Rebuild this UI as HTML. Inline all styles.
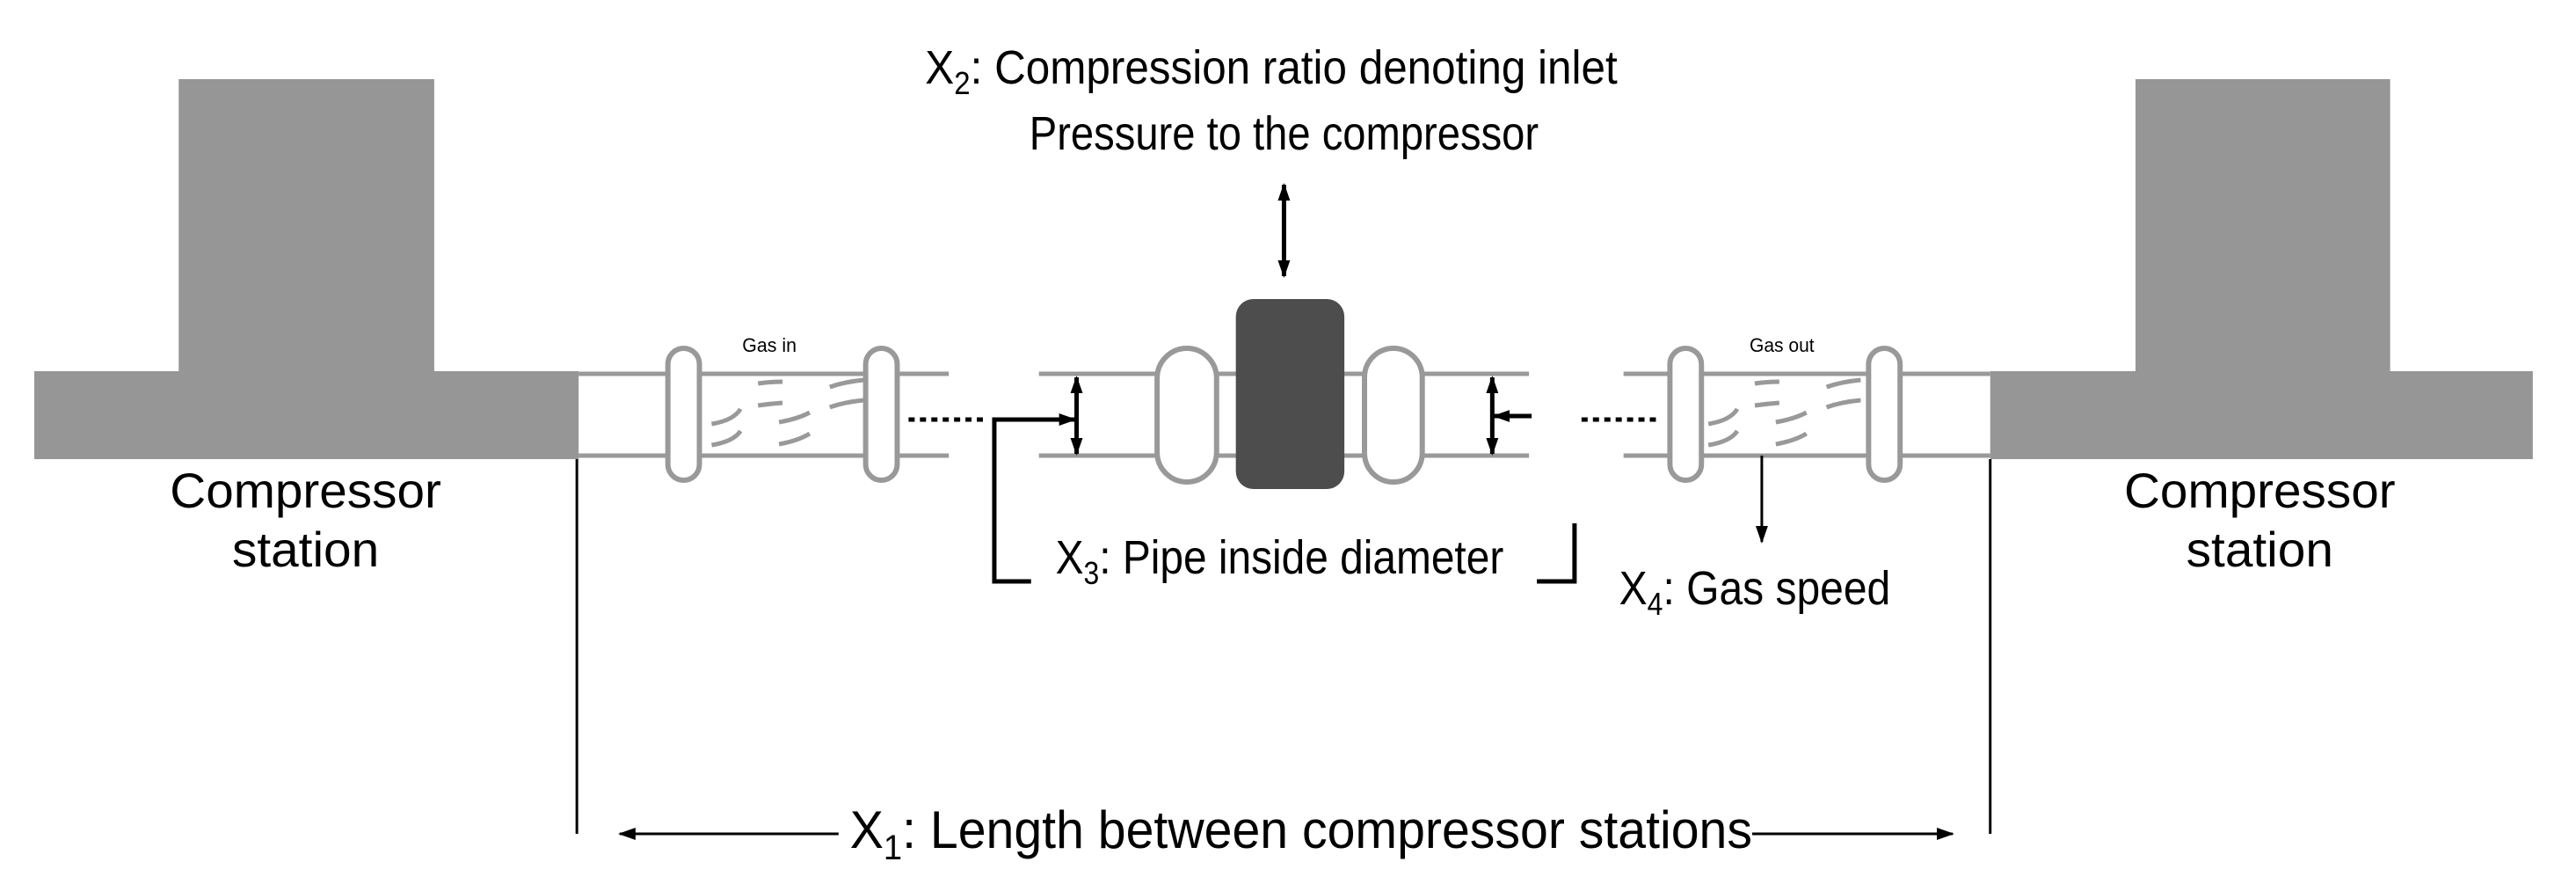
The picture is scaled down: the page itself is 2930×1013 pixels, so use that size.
<!DOCTYPE html>
<html><head><meta charset="utf-8"><style>html,body{margin:0;padding:0;background:#fff}svg{display:block}text{font-family:"Liberation Sans",Arial,sans-serif;fill:#000}</style></head>
<body>
<svg width="2930" height="1013" viewBox="0 0 2930 1013" xmlns="http://www.w3.org/2000/svg">
<defs>
<marker id="ahs" viewBox="0 0 10 10" markerWidth="20" markerHeight="20" refX="9" refY="5" orient="auto-start-reverse" markerUnits="userSpaceOnUse"><path d="M0,1.5 L10,5 L0,8.5 Z" fill="#000"/></marker>
</defs>
<rect width="2930" height="1013" fill="#fff"/>
<g transform="translate(39,0) scale(0.9954,1) translate(-39,0)">
<!-- stations -->
<rect x="39" y="422" width="622" height="100" fill="#969696"/>
<rect x="204" y="90" width="292" height="335" fill="#969696"/>
<rect x="2274" y="422" width="620" height="100" fill="#969696"/>
<rect x="2440" y="90" width="291" height="335" fill="#969696"/>
<g font-size="56" text-anchor="middle">
<text x="349" y="577" textLength="310" lengthAdjust="spacingAndGlyphs">Compressor</text>
<text x="349" y="644" textLength="168" lengthAdjust="spacingAndGlyphs">station</text>
<text x="2582" y="577" textLength="310" lengthAdjust="spacingAndGlyphs">Compressor</text>
<text x="2582" y="644" textLength="168" lengthAdjust="spacingAndGlyphs">station</text>
</g>
<!-- pipes -->
<g stroke="#999" stroke-width="5" fill="none">
<line x1="661" y1="425" x2="1084" y2="425"/><line x1="661" y1="518" x2="1084" y2="518"/>
<line x1="1187" y1="425" x2="1747" y2="425"/><line x1="1187" y1="518" x2="1747" y2="518"/>
<line x1="1855" y1="425" x2="2274" y2="425"/><line x1="1855" y1="518" x2="2274" y2="518"/>
</g>
<g stroke="#999" stroke-width="6" fill="#fff">
<rect x="763" y="396" width="36" height="150" rx="18"/>
<rect x="989" y="396" width="36" height="150" rx="18"/>
<rect x="1908" y="396" width="36" height="150" rx="18"/>
<rect x="2135" y="396" width="36" height="150" rx="18"/>
<rect x="1322" y="396" width="68" height="152" rx="34"/>
<rect x="1559" y="396" width="66" height="152" rx="33"/>
</g>
<rect x="1412" y="340" width="124" height="216" rx="20" fill="#4d4d4d"/>
<!-- gas dashes -->
<g stroke="#999" stroke-width="5" fill="none">
<path d="M813 482 Q838 478 846 465"/><path d="M813 506 Q838 502 846 490"/>
<path d="M866 436 Q880 434 894 434"/><path d="M866 461 Q880 459 894 458"/>
<path d="M890 480 Q912 476 925 469"/><path d="M890 505 Q912 501 925 493"/>
<path d="M948 440 Q965 434 987 432"/><path d="M948 463 Q965 457 987 455"/>
<path d="M1952 482 Q1977 478 1985 465"/><path d="M1952 506 Q1977 502 1985 490"/>
<path d="M2005 436 Q2019 434 2033 434"/><path d="M2005 461 Q2019 459 2033 458"/>
<path d="M2029 480 Q2051 476 2064 469"/><path d="M2029 505 Q2051 501 2064 493"/>
<path d="M2087 440 Q2104 434 2126 432"/><path d="M2087 463 Q2104 457 2126 455"/>
</g>
<text x="879" y="400" font-size="22" text-anchor="middle" textLength="62" lengthAdjust="spacingAndGlyphs">Gas in</text>
<text x="2036" y="400" font-size="22" text-anchor="middle" textLength="74" lengthAdjust="spacingAndGlyphs">Gas out</text>
<!-- dotted -->
<g stroke="#000" stroke-width="5" stroke-dasharray="7 6">
<line x1="1038" y1="477" x2="1127" y2="477"/>
<line x1="1807" y1="477" x2="1893" y2="477"/>
</g>
<!-- arrows -->
<g stroke="#000" stroke-width="5" fill="none">
<line x1="1230" y1="429" x2="1230" y2="516" marker-start="url(#ahs)" marker-end="url(#ahs)"/>
<polyline points="1178,661 1136,661 1136,477 1228,477" marker-end="url(#ahs)"/>
<line x1="1705" y1="429" x2="1705" y2="516" marker-start="url(#ahs)" marker-end="url(#ahs)"/>
<line x1="1750" y1="473" x2="1707" y2="473" marker-end="url(#ahs)"/>
<polyline points="1756,661 1799,661 1799,595"/>
<line x1="1467" y1="210" x2="1467" y2="314" marker-start="url(#ahs)" marker-end="url(#ahs)"/>
</g>
<g stroke="#000" stroke-width="3" fill="none">
<line x1="2013" y1="518" x2="2013" y2="616" marker-end="url(#ahs)"/>
<line x1="659" y1="522" x2="659" y2="948"/>
<line x1="2274" y1="522" x2="2274" y2="948"/>
<line x1="958" y1="948" x2="708" y2="948" marker-end="url(#ahs)"/>
<line x1="2002" y1="948" x2="2231" y2="948" marker-end="url(#ahs)"/>
</g>
<!-- labels -->
<text x="1057" y="95" font-size="54" textLength="791" lengthAdjust="spacingAndGlyphs">X<tspan font-size="36" dy="12">2</tspan><tspan dy="-12">: Compression ratio denoting inlet</tspan></text>
<text x="1176" y="170" font-size="54" textLength="582" lengthAdjust="spacingAndGlyphs">Pressure to the compressor</text>
<text x="1206" y="652" font-size="54" textLength="512" lengthAdjust="spacingAndGlyphs">X<tspan font-size="36" dy="12">3</tspan><tspan dy="-12">: Pipe inside diameter</tspan></text>
<text x="1850" y="687" font-size="54" textLength="310" lengthAdjust="spacingAndGlyphs">X<tspan font-size="36" dy="12">4</tspan><tspan dy="-12">: Gas speed</tspan></text>
<text x="971" y="964" font-size="60" textLength="1031" lengthAdjust="spacingAndGlyphs">X<tspan font-size="40" dy="13">1</tspan><tspan dy="-13">: Length between compressor stations</tspan></text>
</g>
</svg>
</body></html>
